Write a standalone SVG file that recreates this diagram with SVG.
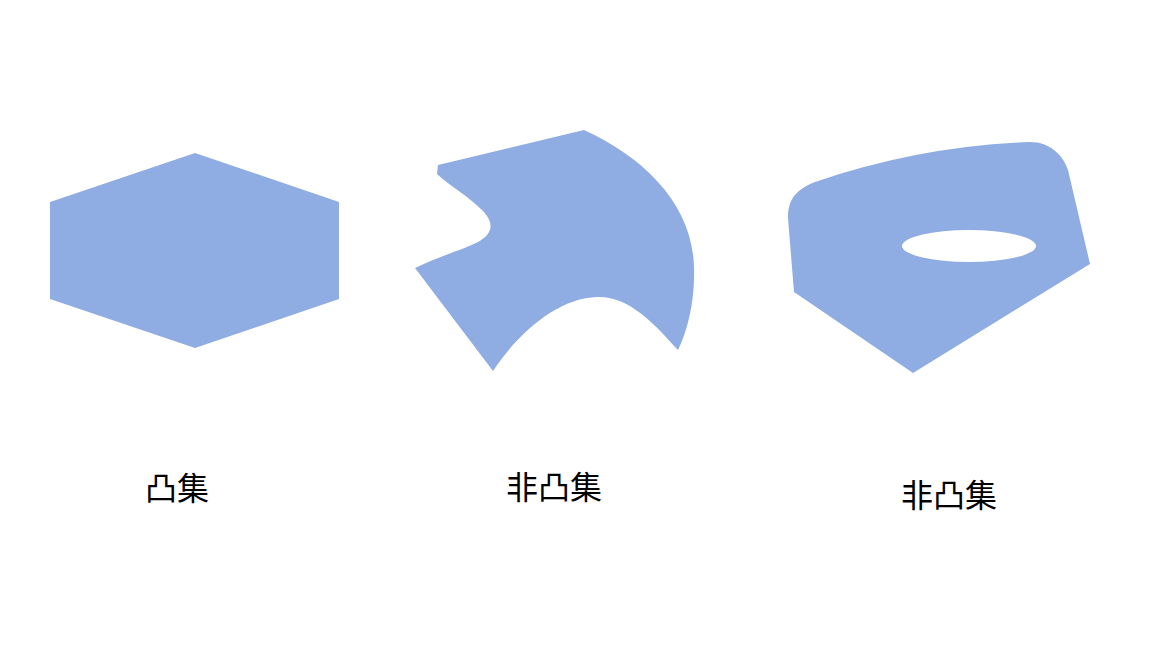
<svg xmlns="http://www.w3.org/2000/svg" width="1152" height="648" viewBox="0 0 1152 648">
<style>
.shape{fill:#8FACE3;stroke:none}
.lbl{font-family:"Noto Sans CJK SC","Noto Sans",sans-serif;font-size:32px;fill:#000}
</style>
<rect width="1152" height="648" fill="#fff"/>
<g id="convex">
<polygon class="shape" points="50,202 195,153 339,202 339,299 195,348 50,299"/>
<text class="lbl" x="145" y="500">凸集</text>
</g>
<g id="nonconvex1">
<path class="shape" d="M438,165 L584,130 C645,158 693,205 694,268 C695,300 688,330 678,350 C655,325 630,296 597,297 C560,298 520,330 493,371 L415,268 C440,256 462,250 478,242 C494,233 494,222 482,210 C468,196 450,186 437,174 Z"/>
<text class="lbl" x="506" y="499">非凸集</text>
</g>
<g id="nonconvex2">
<path class="shape" fill-rule="evenodd" d="M788,218 C788,200 795,190 815,182 Q920,146 1030,142 C1050,142 1063,155 1068,170 L1090,264 L913,373 L794,292 Z M902,246 A67,16 0 1 0 1036,246 A67,16 0 1 0 902,246 Z"/>
<text class="lbl" x="901" y="507">非凸集</text>
</g>
<g id="connectors"></g>
</svg>
